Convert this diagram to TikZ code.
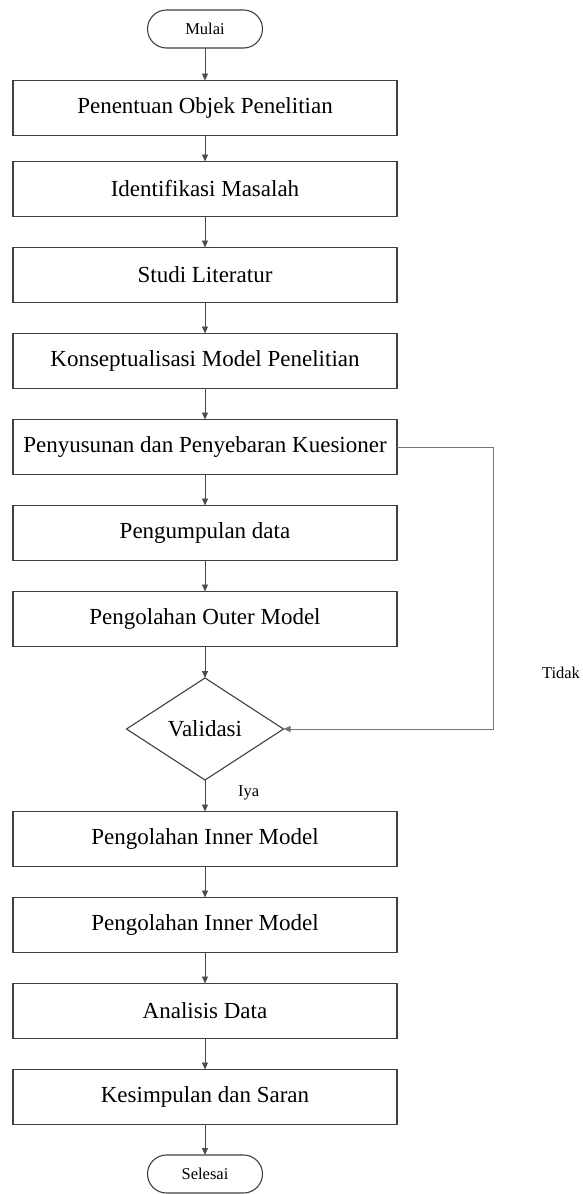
\documentclass[tikz,border=0pt]{standalone}
\usepackage{fontspec}
\setmainfont{Liberation Serif}
\usetikzlibrary{shapes.geometric,arrows.meta}
\begin{document}
\begin{tikzpicture}[x=1pt,y=-1pt,
  box/.style={draw=black!75,line width=1.1pt,minimum width=384pt,minimum height=55pt,inner sep=0pt,outer sep=0pt,font=\fontsize{23}{27}\selectfont},
  term/.style={draw=black!75,line width=1.1pt,rounded corners=19pt,minimum width=115pt,minimum height=38pt,inner sep=0pt,outer sep=0pt,font=\fontsize{16.5}{19}\selectfont},
  dec/.style={draw=black!75,line width=1.1pt,diamond,aspect=1.54,minimum width=157pt,minimum height=102pt,inner sep=0pt,outer sep=0pt,font=\fontsize{23}{27}\selectfont},
  conn/.style={draw=black!70,line width=0.9pt,-{Triangle[length=7pt,width=6pt]}},
  lbl/.style={inner sep=0pt,font=\fontsize{16.5}{19}\selectfont}]
\useasboundingbox (0,0) rectangle (582,1194);
\node[term] (start) at (205,29) {Mulai};
\node[box] (b1) at (205,108) {Penentuan Objek Penelitian};
\node[box] (b2) at (205,189) {Identifikasi Masalah};
\node[box] (b3) at (205,275) {Studi Literatur};
\node[box] (b4) at (205,361) {Konseptualisasi Model Penelitian};
\node[box] (b5) at (205,447) {Penyusunan dan Penyebaran Kuesioner};
\node[box] (b6) at (205,533) {Pengumpulan data};
\node[box] (b7) at (205,619) {Pengolahan Outer Model};
\node[dec] (v) at (205,729) {Validasi};
\node[box] (b8) at (205,839) {Pengolahan Inner Model};
\node[box] (b9) at (205,925) {Pengolahan Inner Model};
\node[box] (b10) at (205,1011) {Analisis Data};
\node[box] (b11) at (205,1097) {Kesimpulan dan Saran};
\node[term] (end) at (205,1174) {Selesai};
\draw[conn] (start) -- (b1);
\draw[conn] (b1) -- (b2);
\draw[conn] (b2) -- (b3);
\draw[conn] (b3) -- (b4);
\draw[conn] (b4) -- (b5);
\draw[conn] (b5) -- (b6);
\draw[conn] (b6) -- (b7);
\draw[conn] (b7) -- (v);
\draw[conn] (v) -- (b8);
\draw[conn] (b8) -- (b9);
\draw[conn] (b9) -- (b10);
\draw[conn] (b10) -- (b11);
\draw[conn] (b11) -- (end);
\coordinate (fb) at (493,447);
\draw[conn,draw=black!55] (b5.east) -- (fb) |- (v.east);
\node[lbl] (tidak) at (561,673) {Tidak};
\node[lbl,anchor=west] (iya) at (238,793) {Iya};
\end{tikzpicture}
\end{document}
